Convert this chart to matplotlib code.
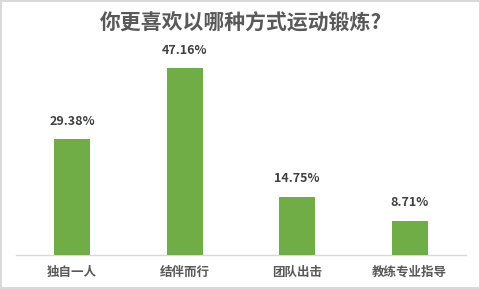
import matplotlib
matplotlib.use("Agg")
import matplotlib.pyplot as plt
import numpy as np

plt.rcParams['font.family'] = ['Noto Sans CJK SC', 'DejaVu Sans']

# --- data ---
CATEGORIES = ["独自一人", "结伴而行", "团队出击", "教练专业指导"]
VALUES = [29.38, 47.16, 14.75, 8.71]
TITLE = "你更喜欢以哪种方式运动锻炼?"

GREEN = "#70AD47"
W, H = 481, 289

fig = plt.figure(figsize=(W / 100, H / 100), dpi=100)
fig.patch.set_facecolor("white")
fig.patch.set_edgecolor("#D9D9D9")
fig.patch.set_linewidth(1.5)

# axes box in pixels: x 16..466, baseline at y=255, ylim top at y=57
ax = fig.add_axes([16 / W, (H - 255) / H, 450 / W, 198 / H])
x = np.arange(len(CATEGORIES))
bars = ax.bar(x, VALUES, width=0.32, color=GREEN, zorder=3)
ax.set_xlim(-0.5, len(CATEGORIES) - 0.5)
ax.set_ylim(0, 50)

for b, v in zip(bars, VALUES):
    ax.annotate(f"{v:.2f}%", (b.get_x() + b.get_width() / 2, v),
                xytext=(0, 8), textcoords="offset points",
                ha="center", va="bottom", fontsize=9, fontweight="bold",
                color="#404040")

ax.set_xticks(x)
ax.set_xticklabels(CATEGORIES, fontsize=9, color="#595959", fontweight="bold")
ax.tick_params(axis="x", length=0, pad=8)
ax.set_yticks([])
for s in ["top", "right", "left"]:
    ax.spines[s].set_visible(False)
ax.spines["bottom"].set_color("#D9D9D9")
ax.spines["bottom"].set_linewidth(1)

fig.text(0.5, 1 - 23 / H, TITLE, ha="center", va="center",
         fontsize=15, fontweight="bold", color="#595959")

fig.savefig("out.png", dpi=100, facecolor=fig.get_facecolor(),
            edgecolor=fig.get_edgecolor())
